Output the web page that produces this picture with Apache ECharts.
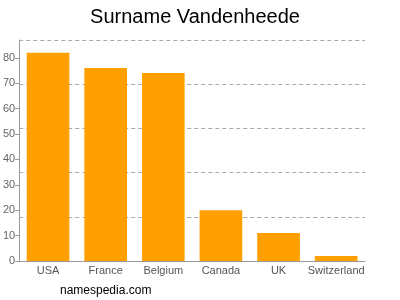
<!DOCTYPE html>
<html>
<head>
<meta charset="utf-8">
<script src="https://cdn.jsdelivr.net/npm/echarts@6/dist/echarts.min.js"></script>
<style>html,body{margin:0;padding:0;background:#fff;}#c{width:400px;height:300px;}</style>
</head>
<body>
<div id="c"></div>
<script>
var categories = ['USA', 'France', 'Belgium', 'Canada', 'UK', 'Switzerland'];
var values = [82, 76, 74, 20, 11, 2];
var yTickLabels = [0, 10, 20, 30, 40, 50, 60, 70, 80];
var yMax = 87;

var chart = echarts.init(document.getElementById('c'), null, {renderer: 'canvas'});
chart.setOption({
  animation: false,
  backgroundColor: '#fff',
  title: {
    text: 'Surname Vandenheede',
    left: 190, top: 2, textAlign: 'center',
    textStyle: {fontFamily: 'Liberation Sans, Arial, sans-serif', fontSize: 20, fontWeight: 'normal', color: '#000'}
  },
  graphic: [{
    type: 'text', left: 60, top: 285,
    style: {text: 'namespedia.com', fontFamily: 'Liberation Sans, Arial, sans-serif', fontSize: 12, fill: '#000'}
  }],
  grid: {left: 17, right: 35, top: 40, bottom: 39, containLabel: false},
  xAxis: {
    type: 'category', data: categories,
    axisLine: {lineStyle: {color: '#999'}},
    axisTick: {alignWithLabel: true, length: 4, lineStyle: {color: '#999'}},
    axisLabel: {interval: 0, color: '#555', fontSize: 11, fontFamily: 'Liberation Sans, Arial, sans-serif', margin: 4}
  },
  yAxis: [{
    type: 'value', min: 0, max: yMax,
    axisLine: {show: true, lineStyle: {color: '#999'}},
    axisTick: {show: true, length: 4, customValues: yTickLabels, lineStyle: {color: '#999'}},
    axisLabel: {customValues: yTickLabels, color: '#666', fontSize: 11, fontFamily: 'Liberation Sans, Arial, sans-serif', margin: 4},
    splitLine: {show: false}
  }, {
    type: 'value', min: 0, max: yMax, interval: yMax / 5, position: 'left',
    axisLine: {show: false}, axisTick: {show: false}, axisLabel: {show: false},
    splitLine: {show: true, lineStyle: {color: '#aaa', type: [4, 3], width: 1}}
  }],
  series: [{
    type: 'bar', data: values, yAxisIndex: 0,
    barCategoryGap: '26%',
    itemStyle: {color: '#FFA000'}
  }]
});
</script>
</body>
</html>
